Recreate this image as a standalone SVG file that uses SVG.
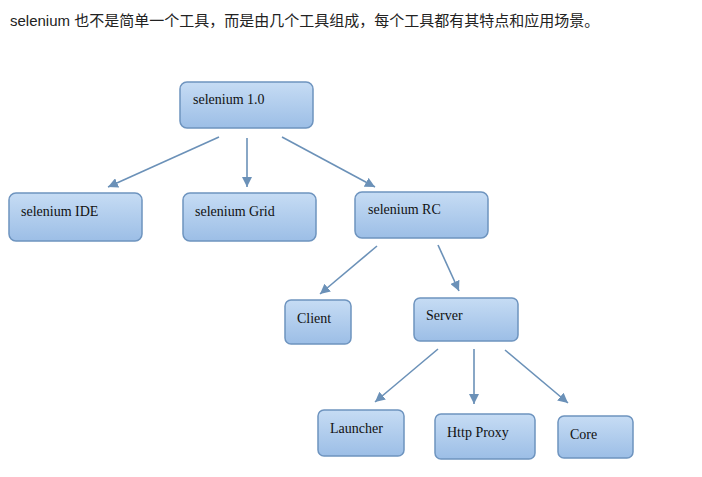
<svg xmlns="http://www.w3.org/2000/svg" width="702" height="477" viewBox="0 0 702 477">
<defs>
<linearGradient id="g" x1="0" y1="0" x2="0" y2="1">
<stop offset="0" stop-color="#c6dcf4"/>
<stop offset="1" stop-color="#9cbee6"/>
</linearGradient>
<marker id="m" viewBox="0 0 10 10" refX="10" refY="5" markerWidth="10" markerHeight="10" orient="auto" markerUnits="userSpaceOnUse">
<path d="M0,0 L10,5 L0,10 z" fill="#6b91b8"/>
</marker>
<style>
.n rect{fill:url(#g);stroke:#6e94bf;stroke-width:1.5}
.n text{font-family:"Liberation Serif","Times New Roman",serif;font-size:14px;fill:#111}
.c line{stroke:#6b91b8;stroke-width:1.6;marker-end:url(#m)}
.t{font-family:"Liberation Sans","Noto Sans CJK SC",sans-serif;font-size:15px;fill:#222}
</style>
</defs>
<rect width="702" height="477" fill="#fff"/>
<text class="t" x="10" y="26">selenium 也不是简单一个工具，而是由几个工具组成，每个工具都有其特点和应用场景。</text>
<g class="c">
<line x1="219" y1="137" x2="108" y2="187"/>
<line x1="247" y1="138" x2="247" y2="187"/>
<line x1="282" y1="137" x2="375" y2="187"/>
<line x1="377" y1="246" x2="320" y2="294"/>
<line x1="438" y1="245" x2="459" y2="291"/>
<line x1="438" y1="349" x2="375" y2="402"/>
<line x1="474" y1="349" x2="474" y2="404"/>
<line x1="505" y1="350" x2="568" y2="403"/>
</g>
<g class="n" id="n-sel10"><rect x="180" y="82" width="133" height="46" rx="7"/><text x="193" y="104">selenium 1.0</text></g>
<g class="n" id="n-ide"><rect x="9" y="193" width="133" height="48" rx="7"/><text x="21" y="216">selenium IDE</text></g>
<g class="n" id="n-grid"><rect x="183" y="193" width="133" height="48" rx="7"/><text x="195" y="216">selenium Grid</text></g>
<g class="n" id="n-rc"><rect x="355" y="192" width="133" height="46" rx="7"/><text x="368" y="214">selenium RC</text></g>
<g class="n" id="n-client"><rect x="285" y="300" width="66" height="44" rx="6"/><text x="297" y="323">Client</text></g>
<g class="n" id="n-server"><rect x="414" y="298" width="104" height="43" rx="6"/><text x="426" y="320">Server</text></g>
<g class="n" id="n-launcher"><rect x="318" y="410" width="86" height="46" rx="6"/><text x="330" y="433">Launcher</text></g>
<g class="n" id="n-http"><rect x="435" y="414" width="100" height="45" rx="6"/><text x="447" y="437">Http Proxy</text></g>
<g class="n" id="n-core"><rect x="558" y="416" width="75" height="42" rx="6"/><text x="570" y="439">Core</text></g>
</svg>
